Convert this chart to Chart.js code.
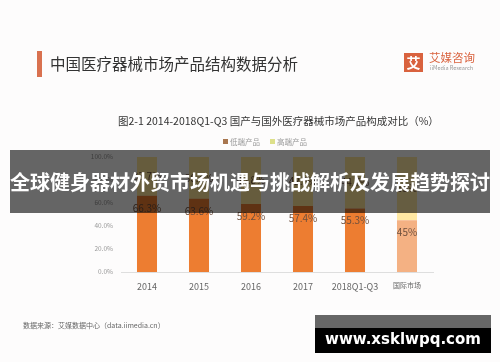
<!DOCTYPE html>
<html>
<head>
<meta charset="utf-8">
<script src="https://cdn.jsdelivr.net/npm/chart.js@4"></script>
<style>
    html, body { margin: 0; padding: 0; background: #fdfcfc; }
    #wrap { position: relative; width: 500px; height: 362px; overflow: hidden; font-family: "Noto Sans CJK SC", "Noto Sans", sans-serif; }
    #chart { position: absolute; left: 0; top: 0; }
    .abs { position: absolute; white-space: nowrap; }
    #titleBar { left: 37px; top: 51px; width: 5px; height: 26px; background: #D9714F; }
    #title { left: 50px; top: 53px; font-size: 15.5px; line-height: 20px; color: #333; }
    #logoBox { left: 404px; top: 53px; width: 19px; height: 19px; background: #D9623E; color: #fff; font-size: 14px; line-height: 19px; text-align: center; font-weight: bold; }
    #logoText { left: 429px; top: 50px; font-size: 11.5px; line-height: 15px; color: #D9623E; }
    #logoSub { left: 430px; top: 65px; font-size: 5.5px; line-height: 7px; color: #999; }
    #subtitle { left: 118px; top: 114px; font-size: 10.5px; line-height: 14px; color: #333; }
    #legend { left: 223px; top: 137px; font-size: 7.5px; line-height: 10px; color: #999; }
    #legend i { display: inline-block; width: 5px; height: 5px; margin-right: 2px; vertical-align: 1px; }
    #source { left: 23px; top: 320px; font-size: 7px; line-height: 10px; color: #666; }
    #band { left: 10px; top: 150px; width: 480px; height: 63px; background: rgba(0, 0, 0, 0.6); color: #fff; font-size: 20px; font-weight: bold; line-height: 63px; text-align: center; }
    #site { left: 315px; top: 315px; width: 176px; height: 38px; background: #000; }
    #siteTop { position: absolute; left: 0; top: 0; width: 176px; height: 13px; background: #666; }
    #siteText { position: absolute; left: 0; top: 13px; width: 176px; text-align: center; color: #fff; font-family: "DejaVu Sans", sans-serif; font-weight: bold; font-size: 15px; line-height: 23px; }
</style>
</head>
<body>
<div id="wrap">
    <canvas id="chart" width="500" height="362"></canvas>
    <div class="abs" id="titleBar"></div>
    <div class="abs" id="title">中国医疗器械市场产品结构数据分析</div>
    <div class="abs" id="logoBox">艾</div>
    <div class="abs" id="logoText">艾媒咨询</div>
    <div class="abs" id="logoSub">iiMedia Research</div>
    <div class="abs" id="subtitle">图2-1 2014-2018Q1-Q3 国产与国外医疗器械市场产品构成对比（%）</div>
    <div class="abs" id="legend"><i style="background:#A8764E"></i>低端产品 &nbsp;&nbsp;&nbsp;&nbsp; <i style="background:#DDE08A"></i>高端产品</div>
    <div class="abs" id="source">数据来源：艾媒数据中心（data.iimedia.cn）</div>
    <div class="abs" id="band">全球健身器材外贸市场机遇与挑战解析及发展趋势探讨</div>
    <div class="abs" id="site"><div id="siteTop"></div><div id="siteText">www.xsklwpq.com</div></div>
</div>
<script>
// chart data
const categories = ['2014', '2015', '2016', '2017', '2018Q1-Q3', '国际市场'];
const lowEnd = [66.3, 63.6, 59.2, 57.4, 55.3, 45];
const highEnd = [33.7, 36.4, 40.8, 42.6, 44.7, 55];
const yTicks = [0, 20, 40, 60, 80, 100];

const lowColors = ['#ED7D31', '#ED7D31', '#ED7D31', '#ED7D31', '#ED7D31', '#F4B183'];
const highColors = ['#FFE699', '#FFE699', '#FFE699', '#FFE699', '#FFE699', '#FFE8A3'];

// draws value labels on the bars
const barLabels = {
    id: 'barLabels',
    afterDatasetsDraw(chart) {
        const ctx = chart.ctx;
        ctx.save();
        ctx.font = '10px "Noto Sans CJK SC", sans-serif';
        ctx.fillStyle = '#6d4f3d';
        ctx.textAlign = 'center';
        ctx.textBaseline = 'middle';
        chart.data.datasets.forEach((ds, i) => {
            chart.getDatasetMeta(i).data.forEach((bar, j) => {
                const y = i === 0 ? bar.y + 12 : (bar.y + bar.base) / 2;
                ctx.fillText(ds.data[j] + '%', bar.x, y);
            });
        });
        ctx.restore();
    }
};

new Chart(document.getElementById('chart'), {
    type: 'bar',
    data: {
        labels: categories,
        datasets: [
            { label: '低端产品', data: lowEnd, backgroundColor: lowColors },
            { label: '高端产品', data: highEnd, backgroundColor: highColors }
        ]
    },
    options: {
        responsive: false,
        animation: false,
        layout: { padding: { top: 157, right: 67, bottom: 60, left: 0 } },
        plugins: {
            legend: { display: false },
            tooltip: { enabled: false }
        },
        datasets: {
            bar: { categoryPercentage: 1, barPercentage: 0.385 }
        },
        scales: {
            x: {
                stacked: true,
                grid: { display: false, drawTicks: false },
                border: { display: true, color: '#dedede' },
                ticks: {
                    padding: 9,
                    color: '#666',
                    maxRotation: 0,
                    minRotation: 0,
                    autoSkip: false,
                    font: (c) => ({ size: c.index === 5 ? 7 : 9, family: '"Noto Sans CJK SC", sans-serif' })
                },
                afterFit: (scale) => { scale.height = 30; }
            },
            y: {
                stacked: true,
                min: 0,
                max: 100,
                afterBuildTicks: (scale) => { scale.ticks = yTicks.map(v => ({ value: v })); },
                grid: { display: false, drawTicks: false },
                border: { display: false },
                ticks: {
                    padding: 8,
                    color: '#999',
                    font: { size: 6.5, family: '"Noto Sans CJK SC", sans-serif' },
                    callback: (v) => v.toFixed(1) + '%'
                },
                afterFit: (scale) => { scale.width = 121; }
            }
        }
    },
    plugins: [barLabels]
});
</script>
</body>
</html>
